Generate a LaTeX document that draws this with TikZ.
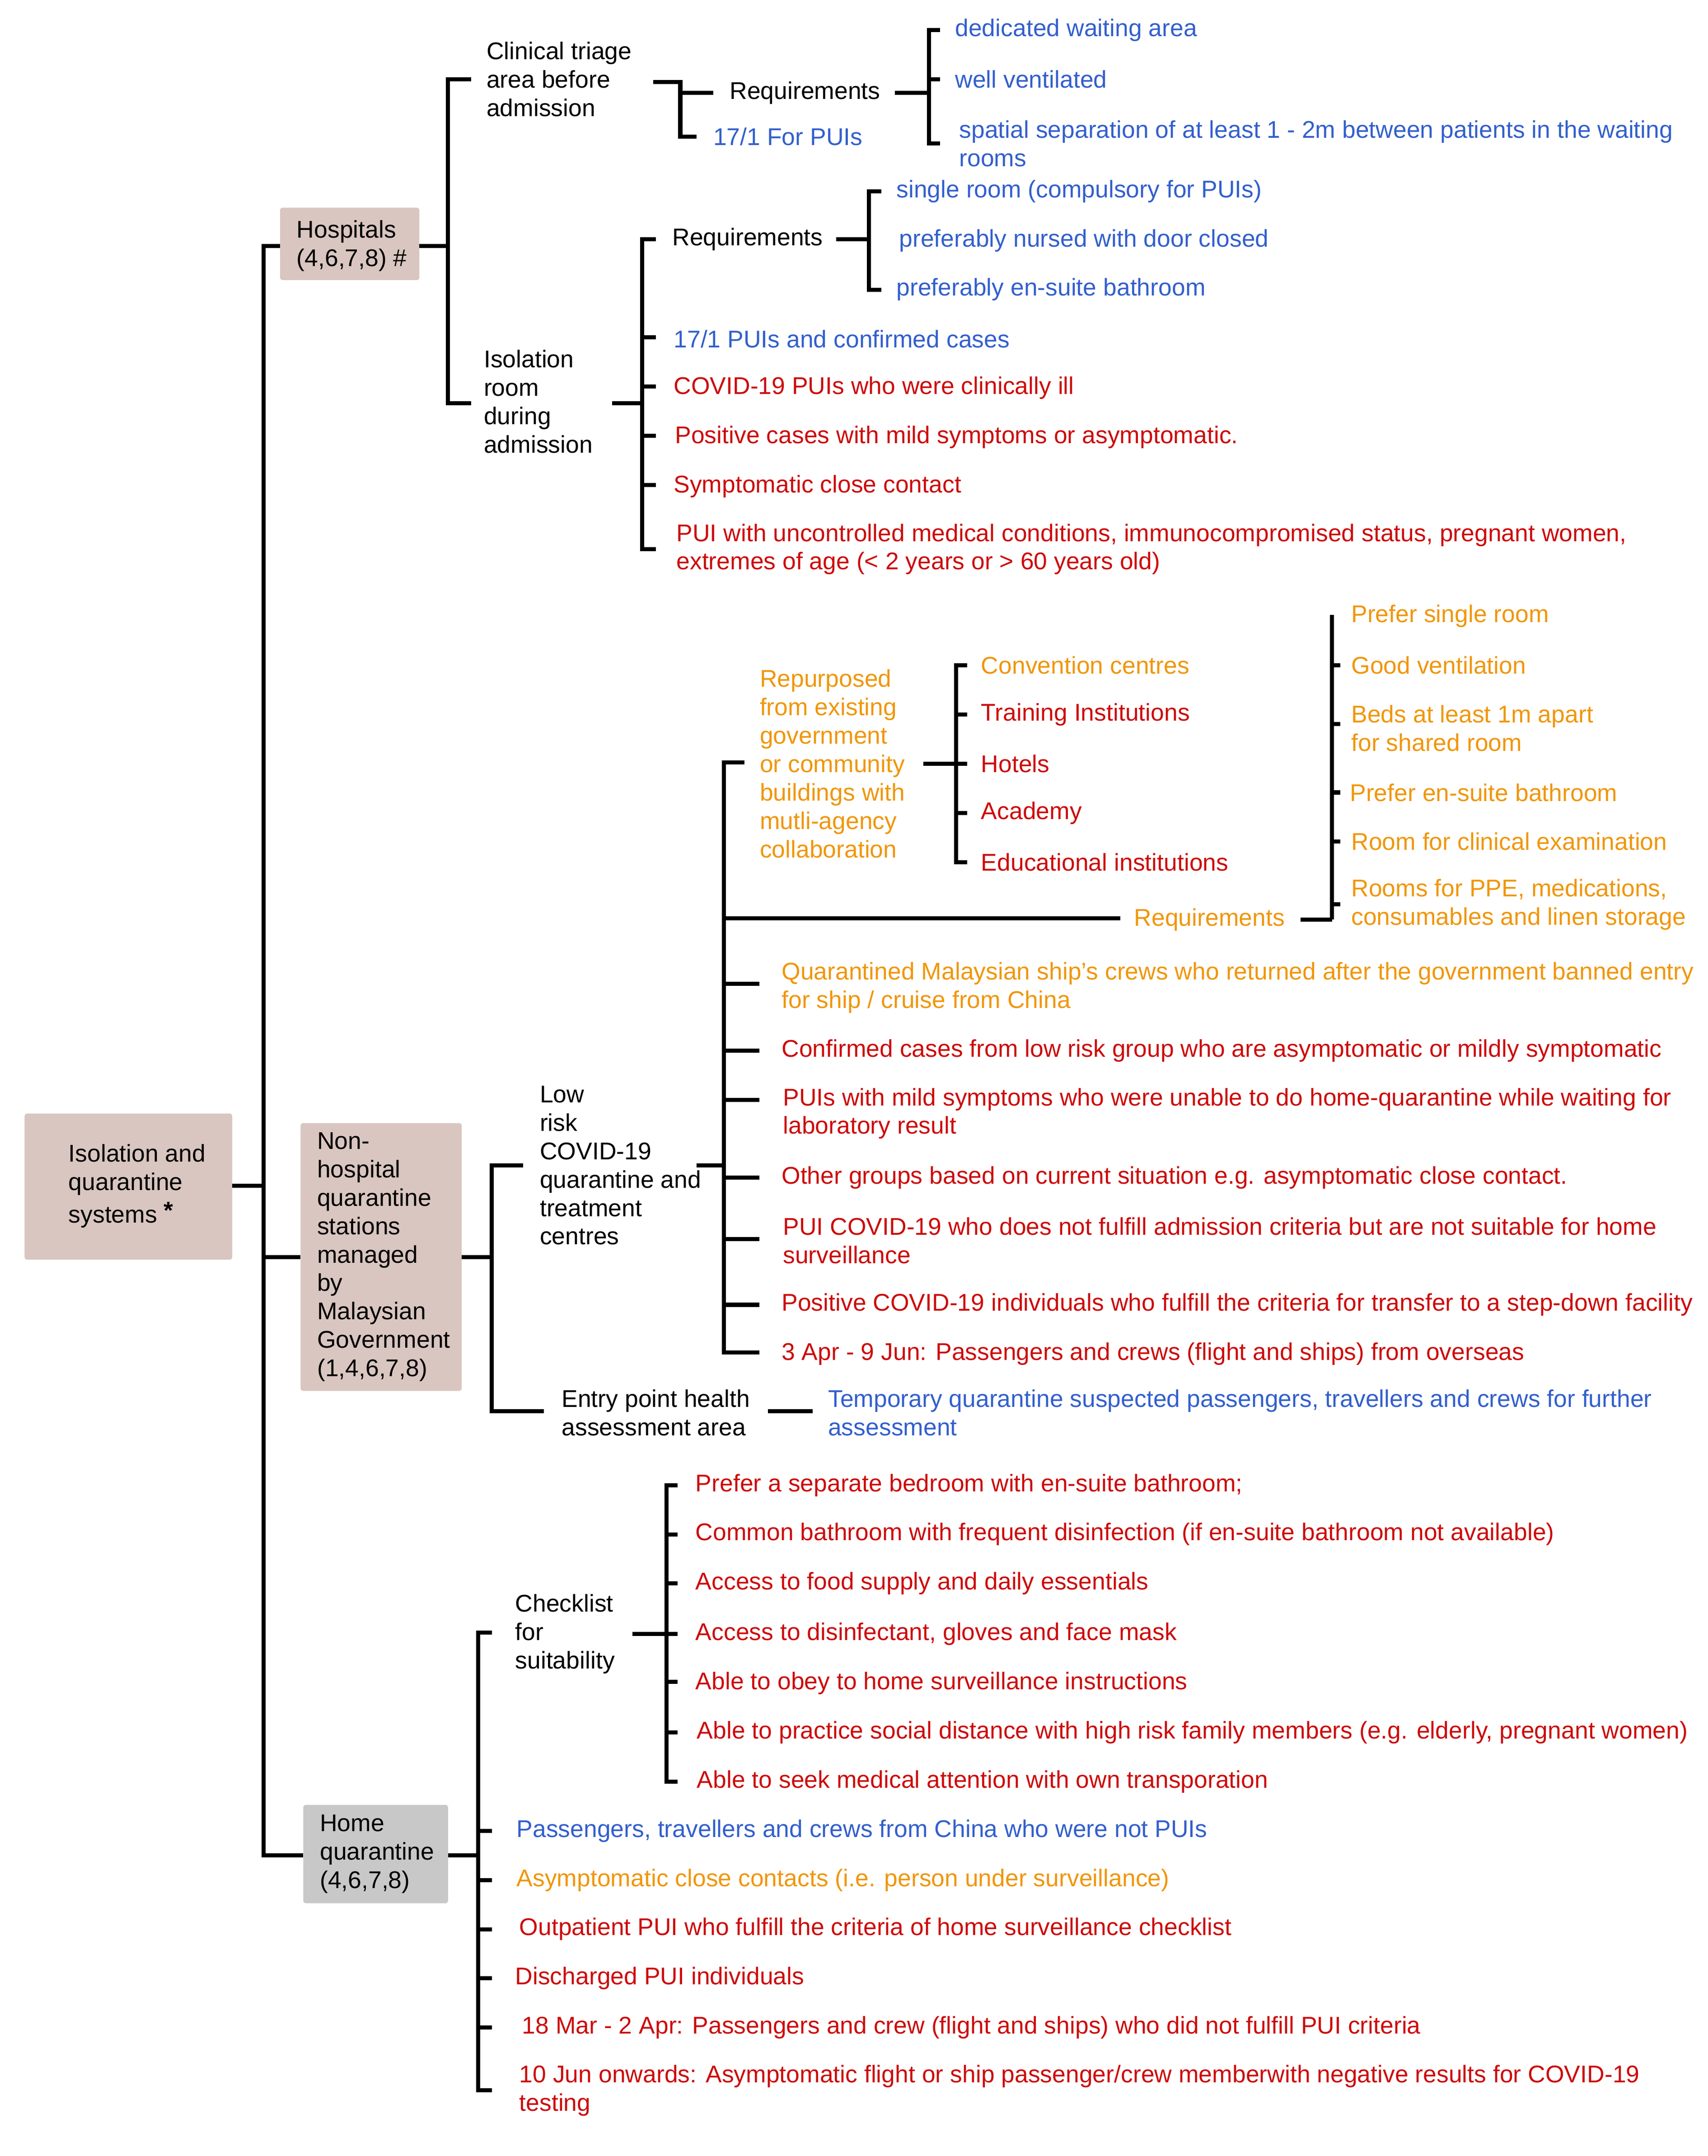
\documentclass[tikz,border=0pt]{standalone}
\usepackage{fontspec}
\setmainfont{Liberation Sans}
\definecolor{cb}{RGB}{50,95,205}
\definecolor{cr}{RGB}{205,10,10}
\definecolor{co}{RGB}{240,150,10}
\definecolor{boxp}{RGB}{217,198,192}
\definecolor{boxg}{RGB}{200,200,200}
\begin{document}
\begin{tikzpicture}[x=1pt,y=-1pt,
  t/.style={anchor=west,inner sep=0pt,align=left,font=\fontsize{17.7}{20.8}\selectfont},
  B/.style={t,text=cb},R/.style={t,text=cr},O/.style={t,text=co},K/.style={t,text=black},
  br/.style={line width=3pt,black}]
\useasboundingbox (0,0) rectangle (1250,1578);
% boxes
\fill[boxp,rounded corners=2pt] (18,815) rectangle (170,922);
\node[K] (root) at (50,868) {Isolation and\\quarantine\\[3pt]systems \raisebox{3pt}{\textbf{*}}};
\fill[boxp,rounded corners=2pt] (205,152) rectangle (307,205);
\node[K] (hosp) at (217,180) {Hospitals\\(4,6,7,8) \#};
\fill[boxp,rounded corners=2pt] (220,822) rectangle (338,1018);
\node[K] (nonh) at (232,920) {Non-\\hospital\\quarantine\\stations\\managed\\by\\Malaysian\\Government\\(1,4,6,7,8)};
\fill[boxg,rounded corners=2pt] (222,1321) rectangle (328,1393);
\node[K] (home) at (234,1357) {Home\\quarantine\\(4,6,7,8)};
% root bracket
\draw[br] (170,868)--(193,868);
\draw[br] (205,180)--(193,180)--(193,1358)--(222,1358);
\draw[br] (193,920)--(220,920);
% hospitals
\draw[br] (307,180)--(328,180);
\draw[br] (345,58)--(328,58)--(328,295)--(345,295);
\node[K] (clin) at (356,58) {Clinical triage\\area before\\admission};
\draw[br] (478,60)--(498,60)--(498,100)--(510,100);
\draw[br] (498,68)--(522,68);
\node[K] (req1) at (534,68) {Requirements};
\node[B] (pui1) at (522,100) {17/1 For PUIs};
\draw[br] (655,68)--(680,68);
\draw[br] (688,22)--(680,22)--(680,105)--(688,105);
\draw[br] (680,58)--(688,58);
\node[B] at (699,22) {dedicated waiting area};
\node[B] at (699,58) {well ventilated};
\node[B] at (702,105) {spatial separation of at least 1 - 2m between patients in the waiting\\rooms};
\node[K] (iso) at (354,294) {Isolation\\room\\during\\admission};
\draw[br] (448,295)--(470,295);
\draw[br] (480,175)--(470,175)--(470,402)--(480,402);
\foreach \y in {247,283,319,355} \draw[br] (470,\y)--(480,\y);
\node[K] (req2) at (492,175) {Requirements};
\draw[br] (612,175)--(636,175);
\draw[br] (645,140)--(636,140)--(636,212)--(645,212);
\node[B] at (656,140) {single room (compulsory for PUIs)};
\node[B] at (658,176) {preferably nursed with door closed};
\node[B] at (656,212) {preferably en-suite bathroom};
\node[B] at (493,248) {17/1 PUIs and confirmed cases};
\node[R] at (493,284) {COVID-19 PUIs who were clinically ill};
\node[R] at (494,320) {Positive cases with mild symptoms or asymptomatic.};
\node[R] at (493,356) {Symptomatic close contact};
\node[R] at (495,402) {PUI with uncontrolled medical conditions, immunocompromised status, pregnant women,\\extremes of age (< 2 years or > 60 years old)};
% non-hospital
\draw[br] (338,920)--(360,920);
\draw[br] (383,853)--(360,853)--(360,1033)--(398,1033);
\node[K] (low) at (395,853) {Low\\risk\\COVID-19\\quarantine and\\treatment\\centres};
\draw[br] (510,853)--(530,853);
\draw[br] (545,558)--(530,558)--(530,990)--(556,990);
\draw[br] (530,672)--(820,672);
\foreach \y in {720,769,805,862,907,955} \draw[br] (530,\y)--(556,\y);
\node[O] (rep) at (556,559) {Repurposed\\from existing\\government\\or community\\buildings with\\mutli-agency\\collaboration};
\draw[br] (676,559)--(700,559);
\draw[br] (708,487)--(700,487)--(700,631)--(708,631);
\foreach \y in {523,559,595} \draw[br] (700,\y)--(708,\y);
\node[O] at (718,487) {Convention centres};
\node[R] at (718,523) {Training Institutions};
\node[R] at (718,559) {Hotels};
\node[R] at (718,595) {Academy};
\node[R] at (718,631) {Educational institutions};
\node[O] (req3) at (830,673) {Requirements};
\draw[br] (952,673)--(975,673);
\draw[br] (975,450)--(975,673);
\foreach \y in {487,530,580,616,662} \draw[br] (975,\y)--(981,\y);
\node[O] at (989,451) {Prefer single room};
\node[O] at (989,487) {Good ventilation};
\node[O] at (989,533) {Beds at least 1m apart\\for shared room};
\node[O] at (988,580) {Prefer en-suite bathroom};
\node[O] at (989,616) {Room for clinical examination};
\node[O] at (989,662) {Rooms for PPE, medications,\\consumables and linen storage};
\node[O] at (572,723) {Quarantined Malaysian ship's crews who returned after the government banned entry\\for ship / cruise from China};
\node[R] at (572,769) {Confirmed cases from low risk group who are asymptomatic or mildly symptomatic};
\node[R] at (573,815) {PUIs with mild symptoms who were unable to do home-quarantine while waiting for\\laboratory result};
\node[R] at (572,862) {Other groups based on current situation e.g. asymptomatic close contact.};
\node[R] at (573,908) {PUI COVID-19 who does not fulfill admission criteria but are not suitable for home\\surveillance};
\node[R] at (572,955) {Positive COVID-19 individuals who fulfill the criteria for transfer to a step-down facility};
\node[R] at (572,991) {3 Apr - 9 Jun: Passengers and crews (flight and ships) from overseas};
\node[K] (entry) at (411,1034) {Entry point health\\assessment area};
\draw[br] (562,1033)--(595,1033);
\node[B] at (606,1034) {Temporary quarantine suspected passengers, travellers and crews for further\\assessment};
% home
\draw[br] (328,1358)--(350,1358);
\draw[br] (360,1195)--(350,1195)--(350,1530)--(360,1530);
\foreach \y in {1340,1376,1412,1448,1484} \draw[br] (350,\y)--(360,\y);
\node[K] (chk) at (377,1196) {Checklist\\for\\suitability};
\draw[br] (463,1196)--(488,1196);
\draw[br] (496,1087)--(488,1087)--(488,1304)--(496,1304);
\foreach \y in {1123,1159,1231,1268} \draw[br] (488,\y)--(496,\y);
\draw[br] (488,1196)--(496,1196);
\node[R] at (509,1087) {Prefer a separate bedroom with en-suite bathroom;};
\node[R] at (509,1123) {Common bathroom with frequent disinfection (if en-suite bathroom not available)};
\node[R] at (509,1159) {Access to food supply and daily essentials};
\node[R] at (509,1196) {Access to disinfectant, gloves and face mask};
\node[R] at (509,1232) {Able to obey to home surveillance instructions};
\node[R] at (510,1268) {Able to practice social distance with high risk family members (e.g. elderly, pregnant women)};
\node[R] at (510,1304) {Able to seek medical attention with own transporation};
\node[B] at (378,1340) {Passengers, travellers and crews from China who were not PUIs};
\node[O] at (378,1376) {Asymptomatic close contacts (i.e. person under surveillance)};
\node[R] at (380,1412) {Outpatient PUI who fulfill the criteria of home surveillance checklist};
\node[R] at (377,1448) {Discharged PUI individuals};
\node[R] at (382,1484) {18 Mar - 2 Apr: Passengers and crew (flight and ships) who did not fulfill PUI criteria};
\node[R] at (380,1530) {10 Jun onwards: Asymptomatic flight or ship passenger/crew memberwith negative results for COVID-19\\testing};
\end{tikzpicture}
\end{document}
